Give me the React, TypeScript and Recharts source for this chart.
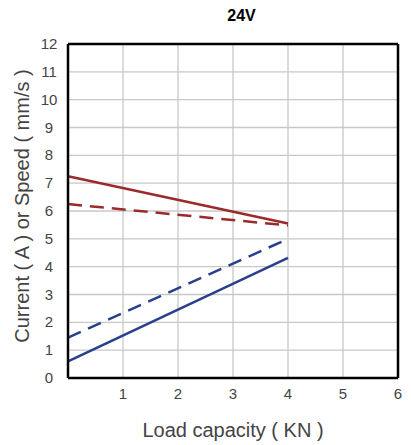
import { LineChart, Line, XAxis, YAxis, CartesianGrid, ReferenceLine } from 'recharts'

// load capacity (KN) at which each curve is sampled
const loads = [0, 4]

// current (A) curves - red, speed (mm/s) curves - blue
const redSolid = [7.25, 5.55]
const redDashed = [6.25, 5.48]
const blueDashed = [1.45, 5.0]
const blueSolid = [0.6, 4.32]

const xTicks = [1, 2, 3, 4, 5, 6]
const yTicks = [0, 1, 2, 3, 4, 5, 6, 7, 8, 9, 10, 11, 12]

const data = loads.map((load, i) => ({
  load,
  redSolid: redSolid[i],
  redDashed: redDashed[i],
  blueDashed: blueDashed[i],
  blueSolid: blueSolid[i],
}))

const FONT = '"Liberation Sans", Arial, Helvetica, sans-serif'
const RED = '#9a2a2c'
const BLUE = '#283f8c'

// y tick labels in the original are centred in a column, not right aligned
const YTick = (props: any) => {
  const { y, payload } = props
  return (
    <text x={49} y={y} dy={5} textAnchor="middle" fill="#444" fontSize={15} fontFamily={FONT}>
      {payload.value}
    </text>
  )
}

const XTick = (props: any) => {
  const { x, y, payload } = props
  return (
    <text x={x} y={y} dy={13} textAnchor="middle" fill="#444" fontSize={15} fontFamily={FONT}>
      {payload.value}
    </text>
  )
}

const YLabel = () => (
  <text
    x={22}
    y={206}
    transform="rotate(-90 22 206)"
    textAnchor="middle"
    dominantBaseline="central"
    fill="#444"
    fontSize={20}
    fontFamily={FONT}
  >
    Current ( A ) or Speed ( mm/s )
  </text>
)

export default function App() {
  return (
    <div style={{ position: 'fixed', left: 0, top: 0, width: 411, height: 445, background: '#fff', fontFamily: FONT }}>
      <div
        style={{
          position: 'absolute',
          top: 7,
          left: 0,
          width: 411,
          textAlign: 'center',
          paddingLeft: 72,
          boxSizing: 'border-box',
          fontSize: 16,
          lineHeight: '18px',
          fontWeight: 'bold',
          color: '#000',
        }}
      >
        24V
      </div>
      <LineChart
        width={411}
        height={445}
        data={data}
        margin={{ top: 44, right: 13, bottom: 0, left: 0 }}
        style={{ fontFamily: FONT }}
      >
        <CartesianGrid stroke="#c8c8c8" strokeWidth={1.3} />
        <XAxis
          dataKey="load"
          type="number"
          domain={[0, 6]}
          ticks={xTicks}
          tickLine={false}
          axisLine={{ stroke: '#000', strokeWidth: 2.5 }}
          tick={<XTick />}
          height={67}
          label={{ value: 'Load capacity ( KN )', position: 'insideBottom', offset: 8, fill: '#444', fontSize: 20 }}
        />
        <YAxis
          type="number"
          domain={[0, 12]}
          ticks={yTicks}
          interval={0}
          tickLine={false}
          axisLine={{ stroke: '#000', strokeWidth: 2.5 }}
          tick={<YTick />}
          width={68}
          label={<YLabel />}
        />
        <ReferenceLine y={12} stroke="#000" strokeWidth={2.5} />
        <ReferenceLine x={6} stroke="#000" strokeWidth={2.5} />
        <Line dataKey="redSolid" stroke={RED} strokeWidth={2.5} dot={false} isAnimationActive={false} />
        <Line dataKey="redDashed" stroke={RED} strokeWidth={2.5} strokeDasharray="14 8" dot={false} isAnimationActive={false} />
        <Line dataKey="blueDashed" stroke={BLUE} strokeWidth={2.5} strokeDasharray="14 8" dot={false} isAnimationActive={false} />
        <Line dataKey="blueSolid" stroke={BLUE} strokeWidth={2.5} dot={false} isAnimationActive={false} />
      </LineChart>
    </div>
  )
}
